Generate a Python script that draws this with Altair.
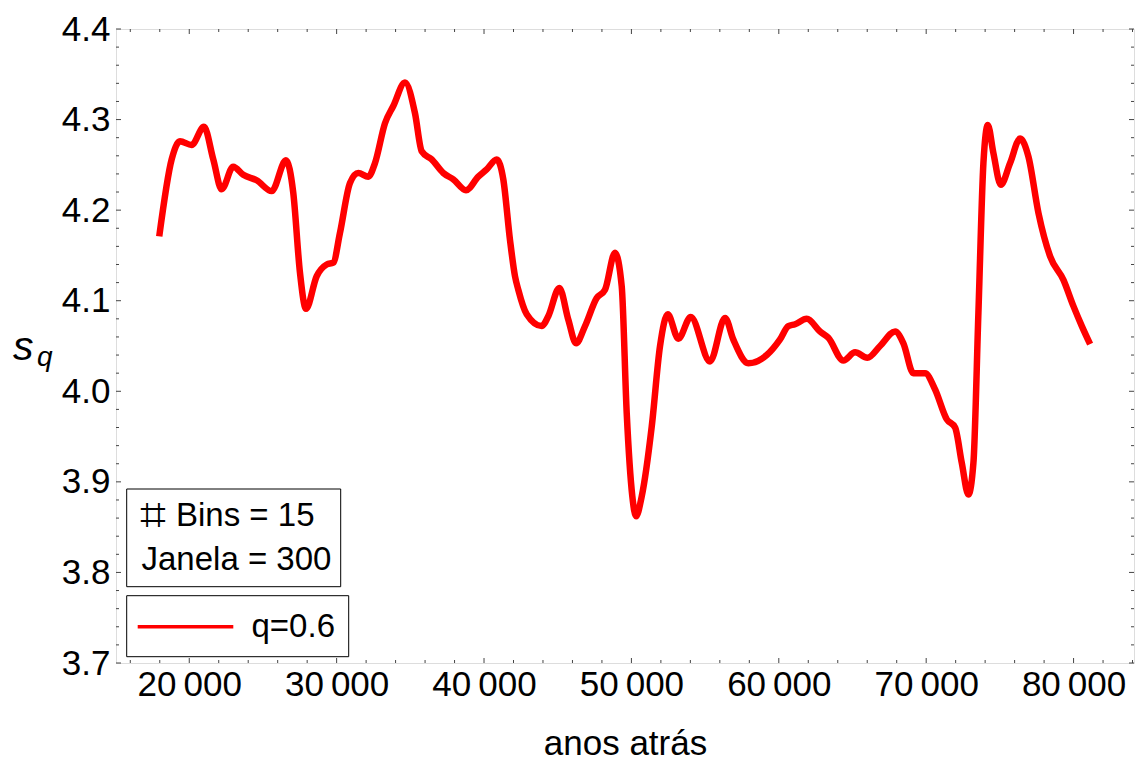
import altair as alt
import pandas as pd

# ---- data ----
years = [17964, 18806, 19369, 20163, 20998, 21630, 22199, 22986, 23665, 24574,
         25592, 26562, 27058, 27512, 27919, 28645, 29324, 29772, 30227, 30905,
         31469, 32147, 32602, 33280, 33844, 34638, 35316, 35771, 36450, 37236,
         37915, 38777, 39612, 40181, 40860, 41308, 41763, 42102, 42327, 42896,
         43914, 44363, 45110, 45720, 46243, 46853, 47646, 48209, 48888, 49342,
         49681, 50062, 50313, 50700, 51378, 51942, 52465, 53185, 54024, 55335,
         56353, 56917, 57935, 59183, 60072, 60648, 61104, 61898, 62800, 63363,
         64381, 65175, 66010, 66871, 67889, 68454, 69132, 69926, 70605, 71398,
         71962, 72415, 72866, 73205, 73544, 73883, 74181, 74561, 75063, 75694,
         76373, 76937, 77615, 78409, 79311, 79990, 80560, 81123]
sq = [4.171, 4.256, 4.276, 4.272, 4.292, 4.256, 4.223, 4.248, 4.239, 4.233,
      4.221, 4.255, 4.219, 4.131, 4.091, 4.127, 4.140, 4.142, 4.175, 4.230,
      4.241, 4.237, 4.252, 4.296, 4.315, 4.341, 4.307, 4.265, 4.256, 4.241,
      4.234, 4.222, 4.237, 4.245, 4.256, 4.234, 4.167, 4.127, 4.112, 4.085,
      4.072, 4.083, 4.114, 4.079, 4.053, 4.072, 4.103, 4.112, 4.153, 4.116,
      3.976, 3.884, 3.862, 3.884, 3.961, 4.050, 4.085, 4.058, 4.082, 4.033,
      4.081, 4.057, 4.031, 4.040, 4.057, 4.072, 4.074, 4.080, 4.066, 4.059,
      4.034, 4.043, 4.037, 4.050, 4.066, 4.053, 4.020, 4.020, 4.002, 3.969,
      3.960, 3.921, 3.886, 3.921, 4.087, 4.252, 4.294, 4.263, 4.228, 4.252,
      4.279, 4.259, 4.197, 4.149, 4.123, 4.094, 4.072, 4.052]
series_name = "q=0.6"
info_symbol = "\u2317"
info_lines = ["Bins = 15", "Janela = 300"]
x_title = "anos atrás"

x_major = [20000, 30000, 40000, 50000, 60000, 70000, 80000]
x_minor = [v for v in range(16000, 84001, 2000) if v % 10000 != 0]
y_major = [3.7, 3.8, 3.9, 4.0, 4.1, 4.2, 4.3, 4.4]
y_minor = [round(3.7 + 0.02 * i, 2) for i in range(36) if i % 5 != 0]

W, H = 1018, 634
FONT = "Liberation Sans"
RED = "#ff0000"
xscale = alt.Scale(domain=[15030, 84100], nice=False, zero=False)
yscale = alt.Scale(domain=[3.7, 4.4], nice=False, zero=False)

x_axis = alt.Axis(title=x_title, values=x_major, ticks=False, grid=False,
                  domain=False, labelFontSize=35, labelFont=FONT,
                  labelColor="black", labelPadding=4,
                  labelExpr="floor(datum.value / 1000) + '\u2009000'",
                  titleFontSize=35, titleFont=FONT, titleFontWeight="normal",
                  titleColor="black", titlePadding=24)
y_axis = alt.Axis(title=None, values=y_major, ticks=False, grid=False,
                  domain=False, format=".1f", labelFontSize=35,
                  labelFont=FONT, labelColor="black", labelPadding=6)

df = pd.DataFrame({"ano": years, "sq": sq})

line = alt.Chart(df).mark_line(
    color=RED, strokeWidth=6.5, interpolate="monotone", strokeCap="butt"
).encode(
    x=alt.X("ano:Q", scale=xscale, axis=x_axis),
    y=alt.Y("sq:Q", scale=yscale, axis=y_axis),
)

def xticks(vals, length, top):
    d = pd.DataFrame({"ano": vals})
    y0, y1 = (0, length) if top else (H, H - length)
    return alt.Chart(d).mark_rule(color="#444", strokeWidth=1).encode(
        x=alt.X("ano:Q", scale=xscale, axis=x_axis), y=alt.value(y0), y2=alt.value(y1))

def yticks(vals, length, right):
    d = pd.DataFrame({"sq": vals})
    x0, x1 = (W, W - length) if right else (0, length)
    return alt.Chart(d).mark_rule(color="#444", strokeWidth=1).encode(
        y=alt.Y("sq:Q", scale=yscale, axis=y_axis), x=alt.value(x0), x2=alt.value(x1))

ticks = [xticks(x_major, 5, False), xticks(x_major, 5, True),
         xticks(x_minor, 3, False), xticks(x_minor, 3, True),
         yticks(y_major, 5, False), yticks(y_major, 5, True),
         yticks(y_minor, 3, False), yticks(y_minor, 3, True)]

one = pd.DataFrame({"k": [0]})

def label(txt, x, y, size, style="normal", align="left", baseline="alphabetic", color="black"):
    return alt.Chart(pd.DataFrame({"t": [txt]})).mark_text(
        font=FONT, fontSize=size, fontStyle=style, align=align,
        baseline=baseline, color=color).encode(
        text="t:N", x=alt.value(x), y=alt.value(y))

# y axis label s_q
ylab_s = label("s", -103, 331, 41, style="italic")
ylab_q = label("q", -79, 337, 28, style="italic")

# info box
box1 = alt.Chart(one).mark_rect(fill="white", stroke="black", strokeWidth=1).encode(
    x=alt.value(10.7), x2=alt.value(224.7), y=alt.value(460), y2=alt.value(557.7))
info_sym = label(info_symbol, 24, 487, 46, baseline="middle")
info_1 = label(info_lines[0], 60, 487, 33, baseline="middle")
info_2 = label(info_lines[1], 25.5, 531, 33, baseline="middle")

# legend box
box2 = alt.Chart(one).mark_rect(fill="white", stroke="black", strokeWidth=1).encode(
    x=alt.value(10.7), x2=alt.value(232.7), y=alt.value(566.7), y2=alt.value(627.7))
leg_line = alt.Chart(one).mark_rule(color=RED, strokeWidth=3.5).encode(
    x=alt.value(21.7), x2=alt.value(117.3), y=alt.value(597.7))
leg_text = label(series_name, 135.5, 598, 33, baseline="middle")

chart = alt.layer(line, *ticks, ylab_s, ylab_q, box1, info_sym, info_1, info_2,
                  box2, leg_line, leg_text).properties(
    width=W, height=H,
    autosize=alt.AutoSizeParams(type="none"),
    padding={"left": 116, "top": 29, "right": 2, "bottom": 99},
).configure_view(stroke="#444", strokeWidth=1.2).configure(background="white")

chart.save("out.html", embed_options={"renderer": "svg", "actions": False})
